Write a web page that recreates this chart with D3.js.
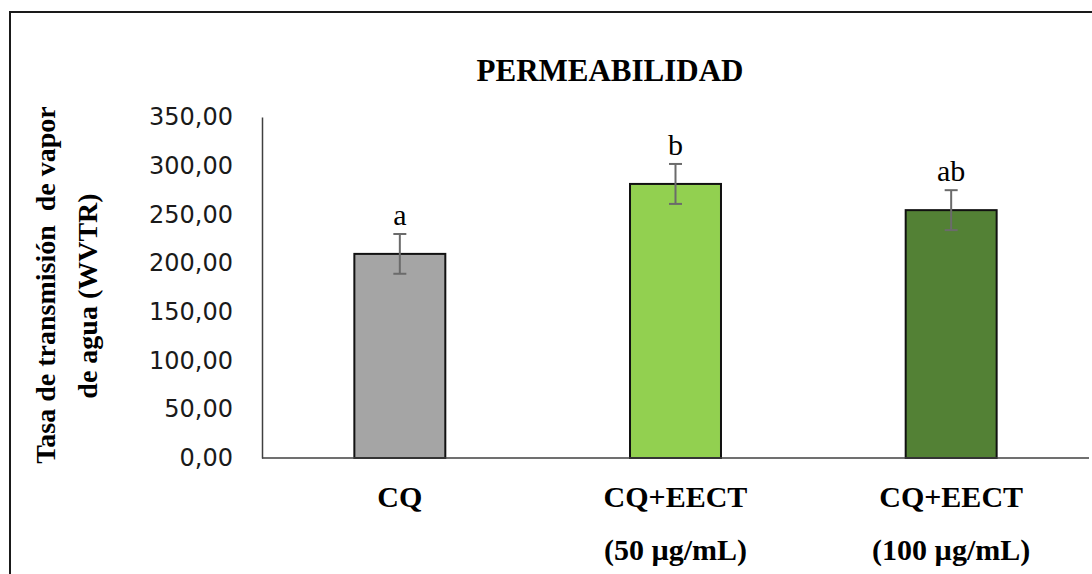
<!DOCTYPE html>
<html>
<head>
<meta charset="utf-8">
<script src="https://cdn.jsdelivr.net/npm/d3@7"></script>
<style>
  html, body { margin: 0; padding: 0; background: #fff; }
  svg { display: block; }
</style>
</head>
<body>
<script>
(function(){

    /////////// DATA //////////
    const categories = ["CQ", "CQ+EECT 50", "CQ+EECT 100"]; // category keys
    const labelLine1 = ["CQ", "CQ+EECT", "CQ+EECT"];        // first line of x labels
    const labelLine2 = ["", "(50 µg/mL)", "(100 µg/mL)"];    // second line of x labels
    const means = [209.5, 281.3, 254.4];                     // WVTR mean values
    const errors = [20.4, 20.5, 20.5];                       // error bar half-lengths
    const letters = ["a", "b", "ab"];                        // significance letters
    const colors = ["#A5A5A5", "#92D050", "#538135"];        // bar fills
    const yTicks = [0, 50, 100, 150, 200, 250, 300, 350];    // y tick values

    /////////// CONFIGURATION //////////
    const width = 1092;
    const height = 574;
    const plot = {left: 262, right: 1089, top: 117, bottom: 458};
    const serif = "'Liberation Serif', 'Times New Roman', serif";

    const locale = d3.formatLocale({decimal: ",", thousands: ".", grouping: [3], currency: ["", ""]});
    const fmt = locale.format(".2f");

    const svg = d3.select("body").append("svg")
        .attr("width", width)
        .attr("height", height);

    // outer frame (runs off the right and bottom edge, as in the picture)
    svg.append("rect")
        .attr("x", 10).attr("y", 12)
        .attr("width", 1200).attr("height", 700)
        .attr("fill", "none")
        .attr("stroke", "#1a1a1a")
        .attr("stroke-width", 2);

    const x = d3.scaleBand()
        .domain(categories)
        .range([plot.left, plot.right])
        .paddingInner(0.67)
        .paddingOuter(0.335);

    const y = d3.scaleLinear()
        .domain([0, 350])
        .range([plot.bottom, plot.top]);

    // title
    svg.append("text")
        .attr("x", 610).attr("y", 81)
        .attr("text-anchor", "middle")
        .style("font-family", serif)
        .style("font-weight", "bold")
        .style("font-size", "31px")
        .text("PERMEABILIDAD");

    // y axis
    const yAxis = svg.append("g")
        .attr("transform", `translate(${plot.left},0)`)
        .call(d3.axisLeft(y).tickValues(yTicks).tickFormat(fmt).tickSize(0).tickPadding(29));
    yAxis.select(".domain").attr("stroke", "#404040").attr("stroke-width", 1.5);
    yAxis.selectAll("text")
        .style("font-family", "'DejaVu Sans', Verdana, sans-serif")
        .style("font-size", "24px")
        .attr("fill", "#1a1a1a");

    // bars
    svg.selectAll(".bar")
        .data(categories)
        .enter()
        .append("rect")
        .attr("class", "bar")
        .attr("x", d => x(d))
        .attr("width", x.bandwidth())
        .attr("y", (d, i) => y(means[i]))
        .attr("height", (d, i) => y(0) - y(means[i]))
        .attr("fill", (d, i) => colors[i])
        .attr("stroke", "#111")
        .attr("stroke-width", 2);

    // x axis line
    svg.append("line")
        .attr("x1", plot.left).attr("x2", plot.right)
        .attr("y1", y(0)).attr("y2", y(0))
        .attr("stroke", "#404040")
        .attr("stroke-width", 1.5);

    // error bars
    const err = svg.selectAll(".err")
        .data(categories)
        .enter()
        .append("g")
        .attr("class", "err")
        .attr("stroke", "#6b6b6b")
        .attr("stroke-width", 2);
    err.append("line")
        .attr("x1", d => x(d) + x.bandwidth() / 2)
        .attr("x2", d => x(d) + x.bandwidth() / 2)
        .attr("y1", (d, i) => y(means[i] + errors[i]))
        .attr("y2", (d, i) => y(means[i] - errors[i]));
    [1, -1].forEach(s => {
        err.append("line")
            .attr("x1", d => x(d) + x.bandwidth() / 2 - 6.5)
            .attr("x2", d => x(d) + x.bandwidth() / 2 + 6.5)
            .attr("y1", (d, i) => y(means[i] + s * errors[i]))
            .attr("y2", (d, i) => y(means[i] + s * errors[i]));
    });

    // significance letters
    svg.selectAll(".letter")
        .data(categories)
        .enter()
        .append("text")
        .attr("class", "letter")
        .attr("x", d => x(d) + x.bandwidth() / 2)
        .attr("y", (d, i) => y(means[i] + errors[i]) - 9)
        .attr("text-anchor", "middle")
        .style("font-family", serif)
        .style("font-size", "30px")
        .text((d, i) => letters[i]);

    // x labels (two lines)
    const xl = svg.selectAll(".xlabel")
        .data(categories)
        .enter()
        .append("text")
        .attr("class", "xlabel")
        .attr("text-anchor", "middle")
        .style("font-family", serif)
        .style("font-weight", "bold")
        .style("font-size", "30px");
    xl.append("tspan")
        .attr("x", d => x(d) + x.bandwidth() / 2)
        .attr("y", 507)
        .text((d, i) => labelLine1[i]);
    xl.append("tspan")
        .attr("x", d => x(d) + x.bandwidth() / 2)
        .attr("y", 560)
        .text((d, i) => labelLine2[i]);

    // y axis title (two lines, rotated)
    const yt = svg.append("text")
        .attr("text-anchor", "middle")
        .style("font-family", serif)
        .style("font-weight", "bold")
        .style("font-size", "28px");
    yt.append("tspan")
        .attr("transform", null)
        .text("Tasa de transmisión\u00A0 de vapor");
    yt.attr("transform", "translate(55,285) rotate(-90)");
    svg.append("text")
        .attr("text-anchor", "middle")
        .attr("transform", "translate(97,296) rotate(-90)")
        .style("font-family", serif)
        .style("font-weight", "bold")
        .style("font-size", "28px")
        .text("de agua (WVTR)");

})();
</script>
</body>
</html>
